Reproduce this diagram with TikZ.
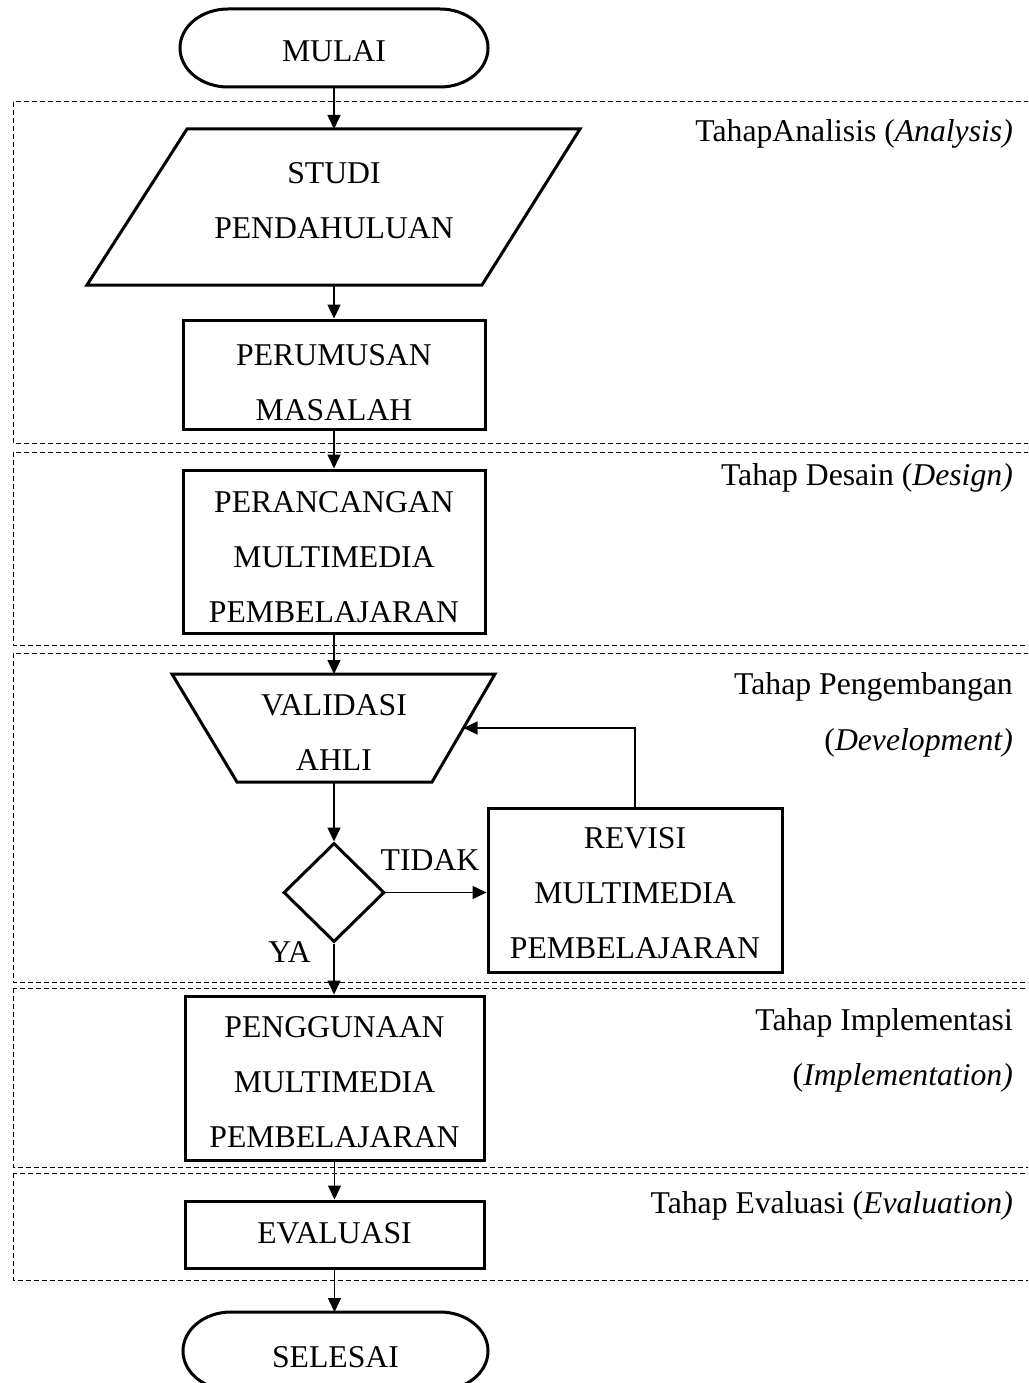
\documentclass[tikz,border=0pt]{standalone}
\usepackage{fontspec}
\setmainfont{Liberation Serif}
\usetikzlibrary{shapes.misc,shapes.geometric,arrows.meta,calc}
\begin{document}
\begin{tikzpicture}[x=1pt,y=-1pt,
  every node/.style={font=\fontsize{31.7}{55}\selectfont},
  shp/.style={draw,line width=3pt,inner sep=0pt},
  boxs/.style={shp,rectangle},
  outline/.style={line width=3pt,line join=miter},
  txt/.style={align=center,inner sep=0pt},
  lbl/.style={anchor=base east,inner sep=0pt},
  arr/.style={line width=1.5pt,-{Triangle[length=14pt,width=13pt]}},
  phase/.style={dash pattern=on 5pt off 3pt,line width=1pt},
  ghost/.style={inner sep=0pt,outer sep=0pt},
  term/.style={ghost,minimum width=308,minimum height=78}]
\path[use as bounding box] (0,0) rectangle (1028,1383);
\clip (0,0) rectangle (1028,1383);

% phase frames
\draw[phase] (13,102) rectangle (1040,443);
\draw[phase] (13,452) rectangle (1040,645);
\draw[phase] (13,653) rectangle (1040,982);
\draw[phase] (13,988) rectangle (1040,1167);
\draw[phase] (13,1173) rectangle (1040,1280);

% phase labels
\node[lbl] (la) at (1013,141.7) {TahapAnalisis (\textit{Analysis)}};
\node[lbl] (ld) at (1013,485) {Tahap Desain (\textit{Design)}};
\node[lbl] (lp1) at (1013,694) {Tahap Pengembangan};
\node[lbl] (lp2) at (1013,750) {(\textit{Development)}};
\node[lbl] (li1) at (1013,1030) {Tahap Implementasi};
\node[lbl] (li2) at (1013,1085) {(\textit{Implementation)}};
\node[lbl] (le) at (1013,1213) {Tahap Evaluasi (\textit{Evaluation)}};

% terminals
\node[term] (mulai) at (334,48) {};
\draw[outline] ([xshift=48]mulai.north west) -- ([xshift=-48]mulai.north east)
  arc[start angle=90,end angle=-90,x radius=48pt,y radius=39pt]
  -- ([xshift=48]mulai.south west)
  arc[start angle=270,end angle=90,x radius=48pt,y radius=39pt] -- cycle;
\node[txt] (tmulai) at (334,51) {MULAI};

\node[term,minimum width=305] (selesai) at (335.5,1351) {};
\draw[outline] ([xshift=48]selesai.north west) -- ([xshift=-48]selesai.north east)
  arc[start angle=90,end angle=-90,x radius=48pt,y radius=39pt]
  -- ([xshift=48]selesai.south west)
  arc[start angle=270,end angle=90,x radius=48pt,y radius=39pt] -- cycle;
\node[txt] (tsel) at (335.5,1357) {SELESAI};

% process shapes
\node[ghost,minimum width=493,minimum height=156] (studi) at (333.5,207) {};
\draw[outline] ([xshift=100]studi.north west) -- (studi.north east) -- ([xshift=-98]studi.south east) -- (studi.south west) -- cycle;
\node[txt] (tstudi) at (334,200.5) {STUDI\\PENDAHULUAN};

\node[boxs,minimum width=302,minimum height=109] (rumus) at (334,374.5) {};
\node[txt] (trumus) at (334,382.5) {PERUMUSAN\\MASALAH};

\node[boxs,minimum width=302,minimum height=163] (rancang) at (334,551.5) {};
\node[txt] (trancang) at (334,557) {PERANCANGAN\\MULTIMEDIA\\PEMBELAJARAN};

\node[ghost,minimum width=323,minimum height=108] (val) at (333.5,728) {};
\draw[outline] (val.north west) -- (val.north east) -- ([xshift=-63]val.south east) -- ([xshift=65]val.south west) -- cycle;
\coordinate (valR) at ($(val.north east)!0.5!([xshift=-63]val.south east)$);
\node[txt] (tval) at (334,732.5) {VALIDASI\\AHLI};

\node[shp,diamond,minimum width=101,minimum height=99] (cek) at (334,892.5) {};

\node[boxs,minimum width=294,minimum height=164] (rev) at (635,890) {};
\node[txt] (trev) at (635,893) {REVISI\\MULTIMEDIA\\PEMBELAJARAN};

\node[boxs,minimum width=299,minimum height=164] (guna) at (334.5,1078) {};
\node[txt] (tguna) at (334.5,1082.5) {PENGGUNAAN\\MULTIMEDIA\\PEMBELAJARAN};

\node[boxs,minimum width=299,minimum height=67] (evl) at (334.5,1234.5) {};
\node[txt] (tevl) at (334.5,1233) {EVALUASI};

% labels on branches
\node[txt] (tidak) at (430,860.5) {TIDAK};
\node[txt] (ya) at (289.5,952.5) {YA};

% connectors
\draw[arr] (mulai.south) -- (mulai.south |- studi.north);
\draw[arr] (rumus.north |- studi.south) -- (rumus.north);
\draw[arr] (rumus.south) -- (rancang.north);
\draw[arr] (rancang.south) -- (rancang.south |- val.north);
\draw[arr] (cek.north |- val.south) -- (cek.north);
\draw[arr] (cek.east) -- (cek.east -| rev.west);
\draw[arr] (rev.north) |- (valR);
\draw[arr] (cek.south) -- (cek.south |- guna.north);
\draw[arr] (guna.south) -- (guna.south |- evl.north);
\draw[arr] (evl.south) -- (evl.south |- selesai.north);
\end{tikzpicture}
\end{document}
